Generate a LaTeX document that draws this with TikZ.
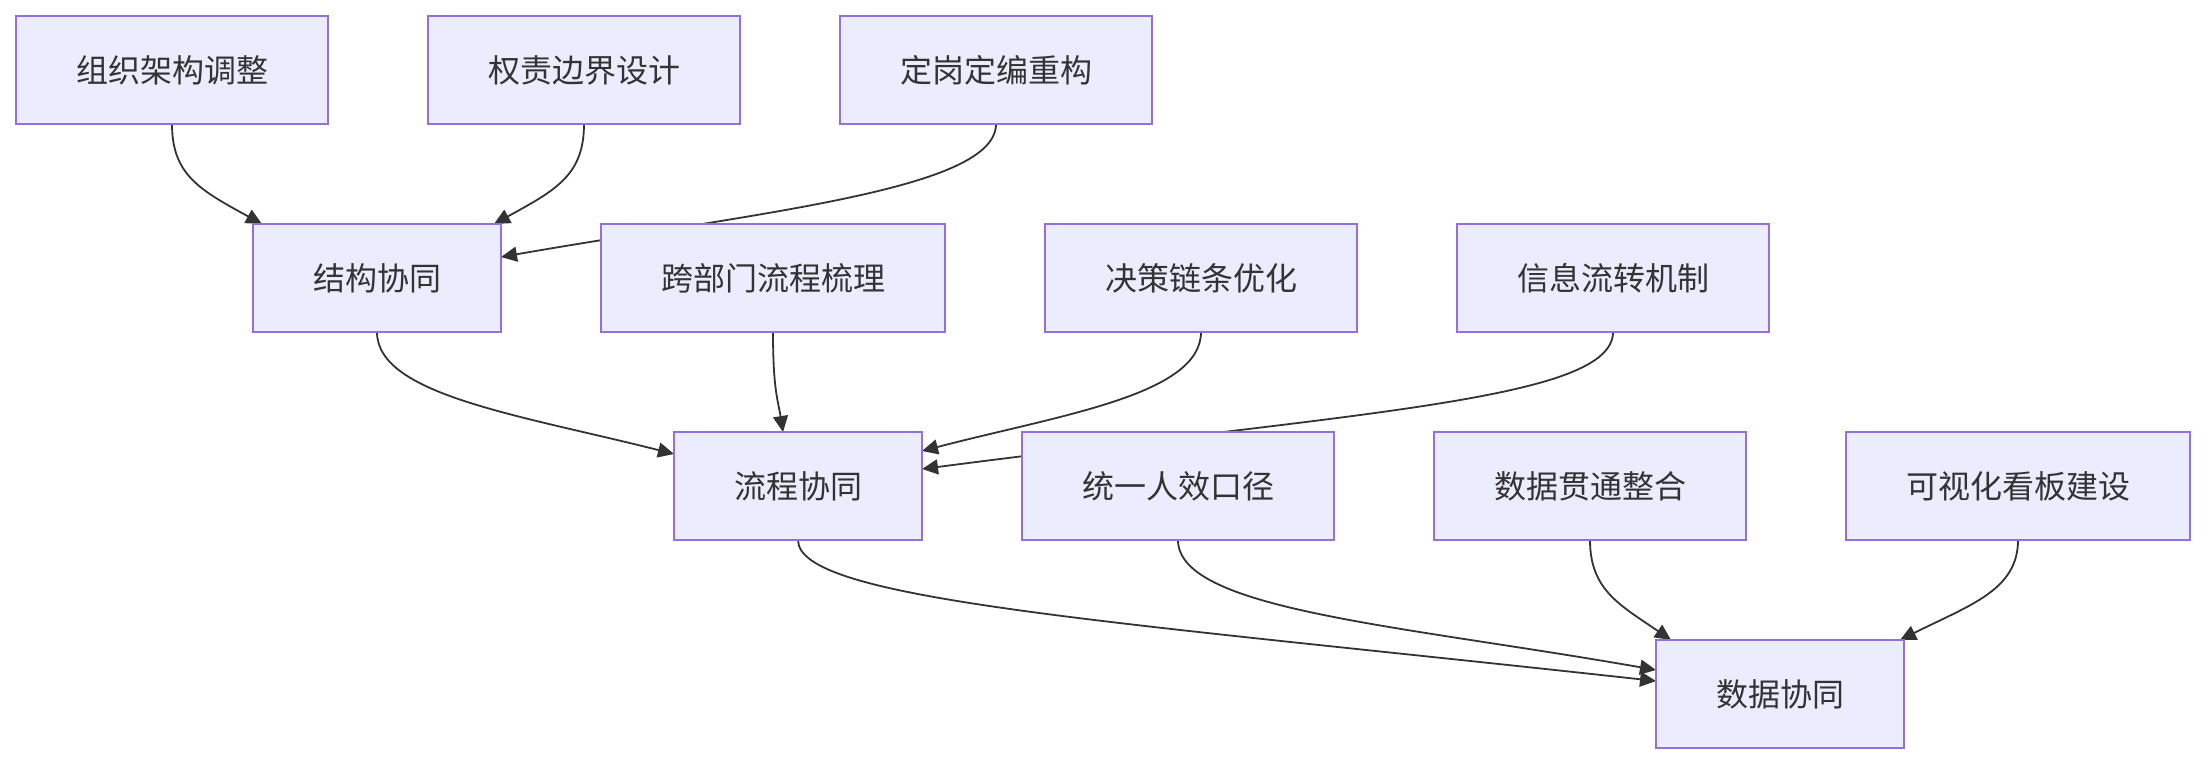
\documentclass[tikz,border=0pt]{standalone}
\usepackage{fontspec}
\usepackage{xcolor}
\usepackage{tikz}
\usetikzlibrary{arrows.meta,positioning,backgrounds}
\newfontfamily\cjk{Noto Sans CJK SC}
\definecolor{nodefill}{HTML}{ECECFF}
\definecolor{nodeline}{HTML}{9370DB}
\definecolor{ink}{HTML}{333333}
\tikzset{
  task/.style={
    rectangle,
    draw=nodeline,
    fill=nodefill,
    line width=2.2pt,
    inner xsep=60pt,
    inner ysep=0pt,
    minimum height=108pt,
    outer sep=0pt,
    text=ink,
    font=\cjk\fontsize{32}{38}\selectfont
  },
  flow/.style={
    -{Triangle[length=16pt,width=15pt]},
    draw=ink,
    line width=1.8pt
  }
}
\begin{document}
\begin{tikzpicture}[
  x=1pt, y=1pt,
  node distance=100pt
]
\useasboundingbox (0,0) rectangle (2206,-764);

% Row 1: structural measures.
\node[task, anchor=north west] (orgadjust) at (16,-16) {组织架构调整};
\node[task, right=of orgadjust] (roles) {权责边界设计};
\node[task, right=of roles] (staffing) {定岗定编重构};

% Row 2: structure hub and process measures.
\node[task, anchor=north west] (structure) at (253,-224) {结构协同};
\node[task, right=of structure] (crossflow) {跨部门流程梳理};
\node[task, right=of crossflow] (decision) {决策链条优化};
\node[task, right=of decision] (infoflow) {信息流转机制};

% Row 3: process hub and data measures.
\node[task, anchor=north west] (process) at (674,-432) {流程协同};
\node[task, right=of process] (metrics) {统一人效口径};
\node[task, right=of metrics] (dataint) {数据贯通整合};
\node[task, right=of dataint] (dashboard) {可视化看板建设};

% Row 4: data hub.
\node[task, anchor=north west] (datasync) at (1656,-640) {数据协同};

% Connectors, kept behind the boxes.
\begin{scope}[on background layer]
  \draw[flow] (orgadjust.south) .. controls +(0,-51) and +(-62,34) .. ([xshift=9pt]structure.north west);
  \draw[flow] (roles.south) .. controls +(0,-51) and +(62,34) .. ([xshift=-7pt]structure.north east);
  \draw[flow] (staffing.south) .. controls +(0,-66) and +(258,45) .. ([yshift=21pt]structure.east);

  \draw[flow] (structure.south) .. controls +(0,-63) and +(-154,39) .. ([yshift=32pt]process.west);
  \draw[flow] (crossflow.south) .. controls +(0,-58) and +(-5,32) .. ([xshift=-15pt]process.north);
  \draw[flow] (decision.south) .. controls +(0,-63) and +(138,36) .. ([yshift=35pt]process.east);
  \draw[flow] (infoflow.south) .. controls +(0,-68) and +(438,57) .. ([yshift=17pt]process.east);

  \draw[flow] (process.south) .. controls +(0,-60) and +(-556,61) .. ([yshift=13pt]datasync.west);
  \draw[flow] (metrics.south) .. controls +(0,-70) and +(-256,45) .. ([yshift=24pt]datasync.west);
  \draw[flow] (dataint.south) .. controls +(0,-50) and +(-51,35) .. ([xshift=15pt]datasync.north west);
  \draw[flow] (dashboard.south) .. controls +(0,-50) and +(70,35) .. ([xshift=-4pt]datasync.north east);
\end{scope}

\end{tikzpicture}
\end{document}
